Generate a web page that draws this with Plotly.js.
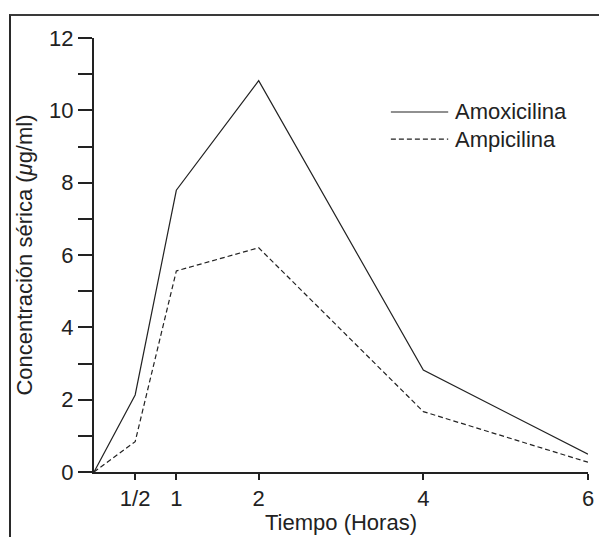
<!DOCTYPE html>
<html>
<head>
<meta charset="utf-8">
<script src="https://cdn.plot.ly/plotly-3.0.1.min.js"></script>
<style>
  html, body { margin: 0; padding: 0; background: #fff; }
  #wrap { position: relative; width: 599px; height: 537px; overflow: hidden; }
  #chart { width: 599px; height: 537px; }
  #frame { position: absolute; left: 9px; top: 14px; width: 620px; height: 560px;
           border-top: 2px solid #3a3a3a; border-left: 2px solid #2a2a2a;
           pointer-events: none; box-sizing: border-box; }
</style>
</head>
<body>
<div id="wrap">
  <div id="chart"></div>
  <div id="frame"></div>
</div>
<script>
// Time (hours)
const hours = [0, 0.5, 1, 2, 4, 6];
// Serum concentration (µg/ml)
const amoxicilina = [0, 2.13, 7.79, 10.82, 2.82, 0.49];
const ampicilina  = [0, 0.84, 5.56, 6.2, 1.67, 0.27];
const seriesNames = ['Amoxicilina', 'Ampicilina'];
const xTickVals = [0.5, 1, 2, 4, 6];
const xTickText = ['1/2', '1', '2', '4', '6'];
const yTickVals = [0, 2, 4, 6, 8, 10, 12];

const ink = '#222';
const font = { family: '"Liberation Sans", Arial, Helvetica, sans-serif', size: 22, color: ink };

const styles = [
  { color: ink, width: 1.2 },
  { color: ink, width: 1.2, dash: '5px,3px' }
];

const traces = [
  { x: hours, y: amoxicilina, name: seriesNames[0], mode: 'lines', type: 'scatter', line: styles[0] },
  { x: hours, y: ampicilina, name: seriesNames[1], mode: 'lines', type: 'scatter', line: styles[1] }
];

// Custom legend (paper coordinates)
const legX0 = 0.601, legX1 = 0.717, legTextX = 0.727;
const legY = [0.8295, 0.767];
const shapes = seriesNames.map((n, i) => ({
  type: 'line', xref: 'paper', yref: 'paper',
  x0: legX0, x1: legX1, y0: legY[i], y1: legY[i],
  line: Object.assign({}, styles[i], { width: 1.2 })
}));
const annotations = seriesNames.map((n, i) => ({
  xref: 'paper', yref: 'paper', x: legTextX, y: legY[i],
  xanchor: 'left', yanchor: 'middle', text: n, showarrow: false, font: font
}));

const layout = {
  width: 599, height: 537,
  margin: { l: 94, r: 11, t: 38, b: 65, pad: 0 },
  paper_bgcolor: '#fff', plot_bgcolor: '#fff',
  font: font,
  showlegend: false,
  shapes: shapes,
  annotations: annotations,
  xaxis: {
    range: [0, 6], showgrid: false, zeroline: false,
    showline: true, linecolor: ink, linewidth: 2,
    ticks: 'outside', ticklen: 6, tickwidth: 2, tickcolor: ink,
    tickvals: xTickVals, ticktext: xTickText,
    tickfont: font,
    title: { text: 'Tiempo (Horas)', font: font, standoff: 4 }
  },
  yaxis: {
    range: [0, 12], showgrid: false, zeroline: false,
    showline: true, linecolor: ink, linewidth: 2,
    ticks: 'outside', ticklen: 14, tickwidth: 2, tickcolor: ink,
    tickvals: yTickVals,
    tickfont: font,
    minor: { dtick: 1, ticks: 'outside', ticklen: 14, tickwidth: 2, tickcolor: ink, showgrid: false },
    title: { text: 'Concentración sérica (<i>μ</i>g/ml)', font: font, standoff: 10 }
  }
};

Plotly.newPlot('chart', traces, layout, { displayModeBar: false, staticPlot: true });
</script>
</body>
</html>
